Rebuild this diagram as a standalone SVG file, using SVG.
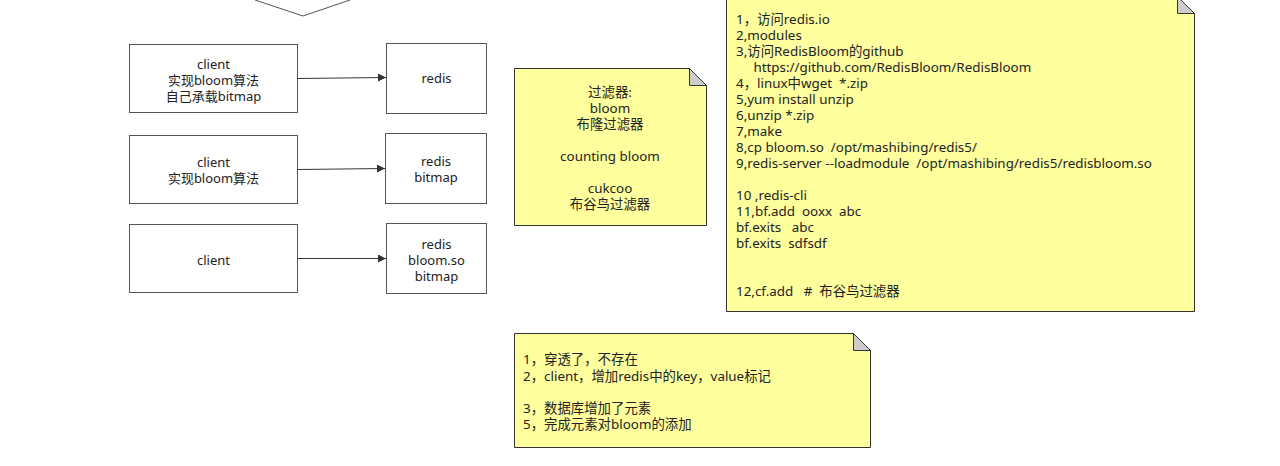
<svg xmlns="http://www.w3.org/2000/svg" width="1280" height="466" viewBox="0 0 1280 466">
<style>
text{font-family:"Noto Sans","Noto Sans CJK SC",sans-serif;font-size:13px;fill:#222;white-space:pre}
.n text{font-size:13.4px}
.c{text-anchor:middle}
.box{fill:#fff;stroke:#555;stroke-width:1}
.note{fill:#ffff9e;stroke:#333;stroke-width:1}
.fold{fill:#ccc;stroke:#333;stroke-width:1}
.edge{stroke:#333;stroke-width:1;fill:none;marker-end:url(#arr)}
</style>
<defs>
<marker id="arr" viewBox="0 0 10 10" refX="10" refY="5" markerWidth="11" markerHeight="8" orient="auto" markerUnits="userSpaceOnUse"><path d="M0,0 L10,5 L0,10 z" fill="#333"/></marker>
</defs>
<rect width="1280" height="466" fill="#fff"/>
<g id="top-shape">
<path d="M255,-10 L255,0 L303,16 L350,0 L350,-10" fill="#fff" stroke="#555"/>
</g>
<g id="n-client1"><rect class="box" x="129.5" y="44.5" width="168" height="68"/>
<text class="c" x="213.5" y="69">client</text><text class="c" x="213.5" y="85">实现bloom算法</text><text class="c" x="213.5" y="101">自己承载bitmap</text></g>
<g id="n-redis1"><rect class="box" x="386.5" y="43.5" width="100" height="70"/>
<text class="c" x="436.5" y="83">redis</text></g>
<g id="n-client2"><rect class="box" x="129.5" y="135.5" width="168" height="68"/>
<text class="c" x="213.5" y="167">client</text><text class="c" x="213.5" y="183">实现bloom算法</text></g>
<g id="n-redis2"><rect class="box" x="385.5" y="133.5" width="101" height="70"/>
<text class="c" x="436" y="166">redis</text><text class="c" x="436" y="182">bitmap</text></g>
<g id="n-client3"><rect class="box" x="129.5" y="224.5" width="168" height="68"/>
<text class="c" x="213.5" y="265">client</text></g>
<g id="n-redis3"><rect class="box" x="386.5" y="223.5" width="100" height="70"/>
<text class="c" x="436.5" y="249">redis</text><text class="c" x="436.5" y="265">bloom.so</text><text class="c" x="436.5" y="281">bitmap</text></g>
<g id="connectors">
<path class="edge" d="M297.5,78.5 L386,77.5"/>
<path class="edge" d="M297.5,169.5 L385,168.5"/>
<path class="edge" d="M297.5,258.5 L386,258.5"/>
</g>
<g id="note-filters" class="n">
<path class="note" d="M514.5,68.5 L689.5,68.5 L706.5,85.5 L706.5,225.5 L514.5,225.5 Z"/>
<path class="fold" d="M689.5,68.5 L689.5,85.5 L706.5,85.5 Z"/>
<text class="c" x="610" y="97">过滤器:</text>
<text class="c" x="610" y="113">bloom</text>
<text class="c" x="610" y="129">布隆过滤器</text>
<text class="c" x="610" y="161">counting bloom</text>
<text class="c" x="610" y="193">cukcoo</text>
<text class="c" x="610" y="209">布谷鸟过滤器</text>
</g>
<g id="note-steps" class="n">
<path class="note" d="M726.5,-3.5 L1177.5,-3.5 L1194.5,13.5 L1194.5,311.5 L726.5,311.5 Z"/>
<path class="fold" d="M1177.5,-3.5 L1177.5,13.5 L1194.5,13.5 Z"/>
<text x="736" y="24">1，访问redis.io</text>
<text x="736" y="40">2,modules</text>
<text x="736" y="56">3,访问RedisBloom的github</text>
<text x="736" y="72">     https://github.com/RedisBloom/RedisBloom</text>
<text x="736" y="88">4，linux中wget  *.zip</text>
<text x="736" y="104">5,yum install unzip</text>
<text x="736" y="120">6,unzip *.zip</text>
<text x="736" y="136">7,make</text>
<text x="736" y="152">8,cp bloom.so  /opt/mashibing/redis5/</text>
<text x="736" y="168">9,redis-server --loadmodule  /opt/mashibing/redis5/redisbloom.so</text>
<text x="736" y="200">10 ,redis-cli</text>
<text x="736" y="216">11,bf.add  ooxx  abc</text>
<text x="736" y="232">bf.exits   abc</text>
<text x="736" y="248">bf.exits  sdfsdf</text>
<text x="736" y="296">12,cf.add   #  布谷鸟过滤器</text>
</g>
<g id="note-flow" class="n">
<path class="note" d="M514.5,333.5 L853.5,333.5 L870.5,350.5 L870.5,447.5 L514.5,447.5 Z"/>
<path class="fold" d="M853.5,333.5 L853.5,350.5 L870.5,350.5 Z"/>
<text x="523" y="364">1，穿透了，不存在</text>
<text x="523" y="381">2，client，增加redis中的key，value标记</text>
<text x="523" y="413">3，数据库增加了元素</text>
<text x="523" y="429">5，完成元素对bloom的添加</text>
</g>
</svg>
